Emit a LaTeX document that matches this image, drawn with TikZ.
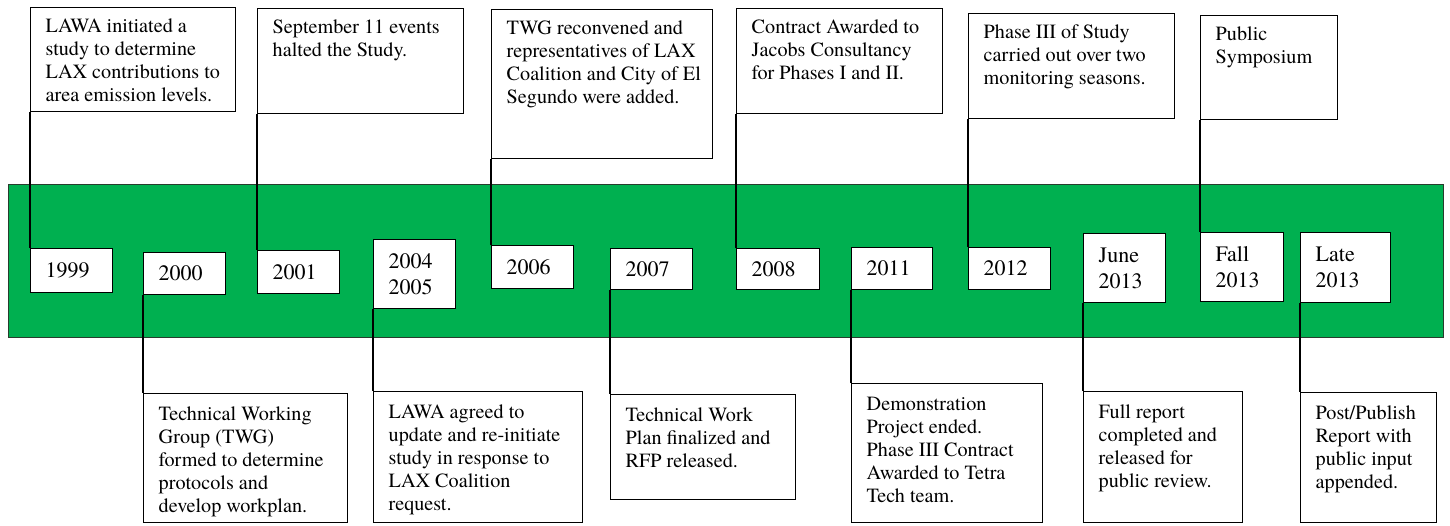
\documentclass[tikz,border=0pt]{standalone}
\usepackage{fontspec}
\newfontfamily\evfont{texgyretermes-regular.otf}
\definecolor{bandgreen}{RGB}{0,176,80}
\definecolor{bandedge}{RGB}{40,60,45}
\newlength{\evgap}
% event text: width, height, lines (top-left aligned)
\newcommand{\evt}[3]{\parbox[c][#2pt][t]{#1pt}{\vspace*{\evgap}\raggedright\leftskip=15pt\strut #3}}
\begin{document}
\begin{tikzpicture}[x=1pt,y=-1pt,
  evbox/.style={draw=black, line width=1.4pt, fill=white, inner sep=0pt,
    anchor=north west, font=\evfont\fontsize{20.2}{23}\selectfont},
  yearbox/.style={draw=black, line width=1.4pt, fill=white, anchor=north west,
    inner xsep=15pt, inner ysep=0pt, align=left,
    font=\evfont\fontsize{22}{26}\selectfont},
  link/.style={draw=black, line width=1.3pt}]
\useasboundingbox (0,0) rectangle (1450,525);

% timeline band
\fill[bandgreen] (8,184) rectangle (1443,337);
\draw[bandedge, line width=1pt] (8,184) rectangle (1443,337);

% years
\node[yearbox, text width=52pt, minimum height=44pt] (y1999) at (30,248) {1999};
\node[yearbox, text width=52pt, minimum height=42pt] (y2000) at (143,252) {2000};
\node[yearbox, text width=52pt, minimum height=43pt] (y2001) at (257,250) {2001};
\node[yearbox, text width=52pt, minimum height=69pt] (y2004) at (373,239) {2004\\2005};
\node[yearbox, text width=52pt, minimum height=43pt] (y2006) at (491,245) {2006};
\node[yearbox, text width=52pt, minimum height=41pt] (y2007) at (610,248) {2007};
\node[yearbox, text width=53pt, minimum height=41pt] (y2008) at (736,248) {2008};
\node[yearbox, text width=51pt, minimum height=42pt] (y2011) at (851,247) {2011};
\node[yearbox, text width=52pt, minimum height=42pt] (y2012) at (968,247) {2012};
\node[yearbox, text width=52pt, minimum height=69pt] (yjune) at (1083,233) {June\\2013};
\node[yearbox, text width=53pt, minimum height=69pt] (yfall) at (1200,232) {Fall\\2013};
\node[yearbox, text width=60pt, minimum height=70pt] (ylate) at (1300,232) {Late\\2013};

% events above the band
\setlength{\evgap}{9pt}
\node[evbox] (t1999) at (30,7) {\evt{205}{104}{LAWA initiated a\\study to determine\\LAX contributions to\\area emission levels.}};
\node[evbox] (t2001) at (257,8) {\evt{206}{105}{September 11 events\\halted the Study.}};
\node[evbox] (t2006) at (491,9) {\evt{221}{149}{TWG reconvened and\\representatives of LAX\\Coalition and City of El\\Segundo were added.}};
\node[evbox] (t2008) at (736,8) {\evt{206}{105}{Contract Awarded to\\Jacobs Consultancy\\for Phases I and II.}};
\node[evbox] (t2012) at (968,13) {\evt{206}{105}{Phase III of Study\\carried out over two\\monitoring seasons.}};
\node[evbox] (tfall) at (1200,15) {\evt{137}{104}{Public\\Symposium}};

% events below the band
\setlength{\evgap}{11pt}
\node[evbox] (b2000) at (143,393) {\evt{204}{129}{Technical Working\\Group (TWG)\\formed to determine\\protocols and\\develop workplan.}};
\node[evbox] (b2004) at (373,391) {\evt{209}{131}{LAWA agreed to\\update and re-initiate\\study in response to\\LAX Coalition\\request.}};
\node[evbox] (b2007) at (610,394) {\evt{185}{105}{Technical Work\\Plan finalized and\\RFP released.}};
\node[evbox] (b2011) at (851,383) {\evt{191}{139}{Demonstration\\Project ended.\\Phase III Contract\\Awarded to Tetra\\Tech team.}};
\node[evbox] (bjune) at (1083,391) {\evt{159}{131}{Full report\\completed and\\released for\\public review.}};
\node[evbox] (blate) at (1300,392) {\evt{136}{130}{Post/Publish\\Report with\\public input\\appended.}};

% leaders
\draw[link] (t1999.south west) -- (y1999.north west);
\draw[link] (t2001.south west) -- (y2001.north west);
\draw[link] (t2006.south west) -- (y2006.north west);
\draw[link] (t2008.south west) -- (y2008.north west);
\draw[link] (t2012.south west) -- (y2012.north west);
\draw[link] (tfall.south west) -- (yfall.north west);
\draw[link] (y2000.south west) -- (b2000.north west);
\draw[link] (y2004.south west) -- (b2004.north west);
\draw[link] (y2007.south west) -- (b2007.north west);
\draw[link] (y2011.south west) -- (b2011.north west);
\draw[link] (yjune.south west) -- (bjune.north west);
\draw[link] (ylate.south west) -- (blate.north west);
\end{tikzpicture}
\end{document}
